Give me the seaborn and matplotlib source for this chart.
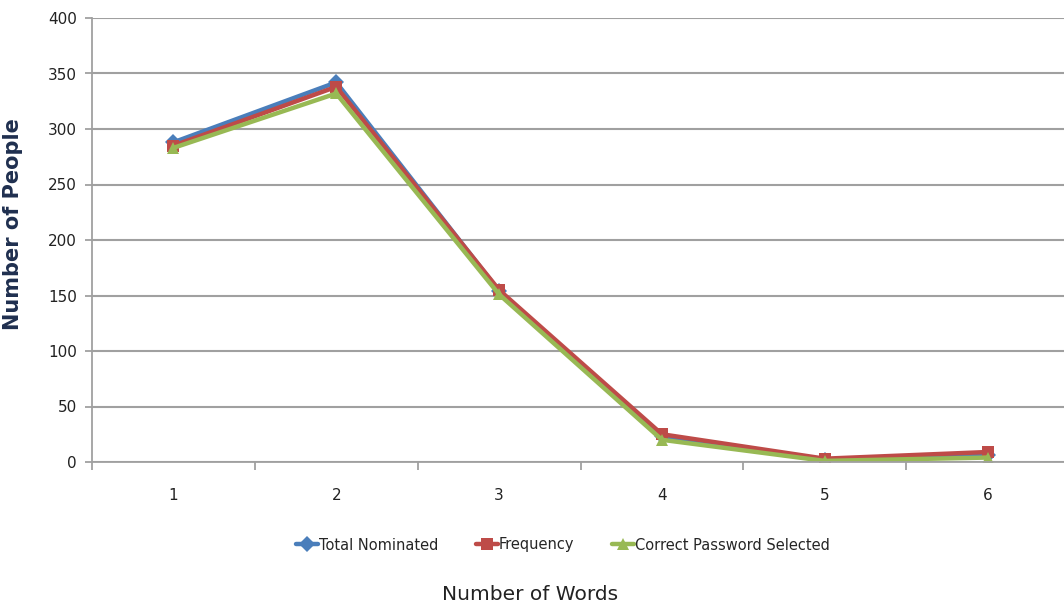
import matplotlib
matplotlib.use("Agg")
import matplotlib.pyplot as plt
import seaborn as sns
import pandas as pd
from matplotlib.ticker import FixedLocator

# Number of words in the password and people counts per series
words = [1, 2, 3, 4, 5, 6]
total_nominated = [288, 342, 154, 23, 2, 6]
frequency = [285, 338, 155, 25, 3, 9]
correct_selected = [283, 332, 151, 20, 1, 4]

series_names = ["Total Nominated", "Frequency", "Correct Password Selected"]
colors = ["#4a7ebb", "#be4b48", "#98b954"]
markers = ["D", "s", "^"]

df = pd.DataFrame({
    "Words": words * 3,
    "People": total_nominated + frequency + correct_selected,
    "Series": sum([[n] * len(words) for n in series_names], []),
})

sns.set_style("white")
plt.rcParams["font.family"] = ["Liberation Sans Narrow", "DejaVu Sans"]

fig = plt.figure(figsize=(10.64, 6.11), dpi=100)
ax = fig.add_axes([92 / 1064, 149 / 611, 977 / 1064, 444 / 611])

sns.lineplot(
    data=df, x="Words", y="People", hue="Series", style="Series",
    hue_order=series_names, style_order=series_names,
    palette=colors, markers=markers, dashes=False,
    linewidth=3.2, markersize=8, markeredgewidth=0, ax=ax, legend=False,
)

ax.set_xlim(0.5, 6.5)
ax.set_ylim(0, 400)
ax.set_yticks(range(0, 401, 50))
ax.set_xticks(words)
ax.xaxis.set_minor_locator(FixedLocator([0.5 + i for i in range(7)]))
ax.yaxis.grid(True, color="#a0a0a0", linewidth=1.5)
ax.set_axisbelow(True)

for side in ["top", "right"]:
    ax.spines[side].set_visible(False)
for side in ["left", "bottom"]:
    ax.spines[side].set_color("#a0a0a0")
    ax.spines[side].set_linewidth(1.3)

ax.tick_params(axis="y", which="major", direction="out", length=5, color="#a0a0a0",
               width=1.3, labelsize=11, labelcolor="#222222", pad=6, left=True)
ax.tick_params(axis="x", which="major", length=0, labelsize=11, labelcolor="#222222", pad=19)
ax.tick_params(axis="x", which="minor", direction="out", length=6, color="#a0a0a0",
               width=1.3, bottom=True)

ax.set_xlabel("")
ax.set_ylabel("Number of People", family=["DejaVu Sans"], fontsize=15, fontweight="bold",
              color="#1f2f4f")
ax.yaxis.set_label_coords(-0.071, 0.535)
fig.text(530 / 1064, 1 - 595 / 611, "Number of Words", ha="center", va="center",
         fontsize=14.5, color="#222222")

handles = [
    plt.Line2D([], [], color=c, marker=m, linewidth=3.2, markersize=8, markeredgewidth=0)
    for c, m in zip(colors, markers)
]
fig.legend(handles, series_names, loc="center", bbox_to_anchor=(563 / 1064, 1 - 545 / 611),
           ncol=3, frameon=False, fontsize=10.5, handlelength=1.5, handletextpad=0.05,
           columnspacing=2.6)

fig.savefig("out.png", dpi=100)
